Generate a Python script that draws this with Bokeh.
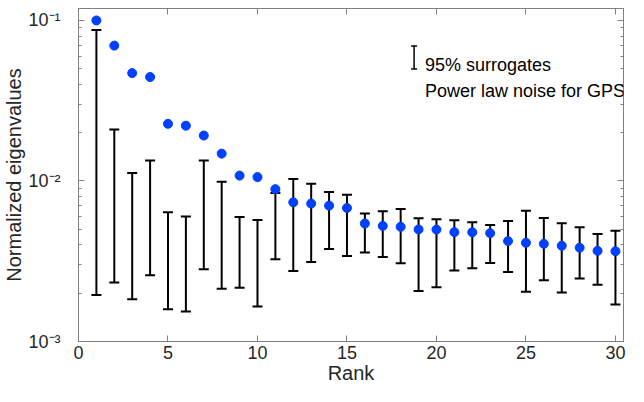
import numpy as np
from bokeh.plotting import figure
from bokeh.models import (ColumnDataSource, Range1d, Whisker, TeeHead, LogAxis, LinearAxis,
                          LogTicker, FixedTicker, CustomJSTickFormatter, Label, CustomLabelingPolicy)
from bokeh.embed import file_html
from bokeh.resources import INLINE

# ---------------- data ----------------
rank = list(range(1, 31))
eigenvalues = [0.100, 0.0697, 0.0470, 0.0444, 0.0227, 0.0221, 0.0192, 0.0148, 0.0108, 0.01057,
               0.00889, 0.00736, 0.00723, 0.00702, 0.00679, 0.00543, 0.00525, 0.00518, 0.00499, 0.00498,
               0.00480, 0.00479, 0.00473, 0.00422, 0.00412, 0.00406, 0.00395, 0.00384, 0.00367, 0.00365]
surr_upper = [0.0871, 0.0209, 0.0112, 0.0134, 0.00638, 0.00600, 0.0134, 0.00989, 0.00597, 0.00572,
              0.00841, 0.0103, 0.00962, 0.00853, 0.00821, 0.00627, 0.00648, 0.00670, 0.00586, 0.00578,
              0.00569, 0.00553, 0.00532, 0.00564, 0.00653, 0.00589, 0.00546, 0.00515, 0.00467, 0.00489]
surr_lower = [0.00195, 0.00233, 0.00183, 0.00259, 0.00159, 0.00154, 0.00282, 0.00213, 0.00216, 0.00165,
              0.00325, 0.00275, 0.00313, 0.00377, 0.00341, 0.00359, 0.00336, 0.00307, 0.00206, 0.00218,
              0.00277, 0.00286, 0.00308, 0.00271, 0.00204, 0.00241, 0.00202, 0.00247, 0.00226, 0.00170]
x_ticks = [0, 5, 10, 15, 20, 25, 30]
legend_labels = ["95% surrogates", "Power law noise for GPS"]

FONT = "Liberation Sans"
AXIS_GREY = "#808080"
TEXT = "#262626"
BLUE = "#0040ff"

src = ColumnDataSource(dict(rank=rank, eig=eigenvalues, upper=surr_upper, lower=surr_lower))

p = figure(width=628, height=386, y_axis_type="log",
           x_range=Range1d(0, 30.45), y_range=Range1d(1e-3, 0.1187),
           output_backend="svg", toolbar_location=None,
           min_border_left=77, min_border_right=0, min_border_top=8, min_border_bottom=45)
p.background_fill_color = "white"
p.border_fill_color = "white"
p.xgrid.visible = False
p.ygrid.visible = False
p.outline_line_color = AXIS_GREY
p.outline_line_width = 1

xt = FixedTicker(ticks=x_ticks)
yt = LogTicker(num_minor_ticks=10)
sup = CustomJSTickFormatter(code="""
const m = {'-':'\u207b','0':'\u2070','1':'\u00b9','2':'\u00b2','3':'\u00b3','4':'\u2074','5':'\u2075','6':'\u2076','7':'\u2077','8':'\u2078','9':'\u2079'};
const e = Math.round(Math.log10(tick));
return '10' + String(e).split('').map(c => m[c]).join('');
""")
no_labels = CustomLabelingPolicy(code="""
try { return new indices.constructor(indices.size, 0); }
catch (err) { for (const i of Array.from(indices)) { indices.unset(i); } return indices; }
""")

def style(ax, labels=True):
    ax.axis_line_color = AXIS_GREY
    ax.major_tick_line_color = AXIS_GREY
    ax.minor_tick_line_color = AXIS_GREY
    ax.major_tick_in = 6
    ax.major_tick_out = 0
    ax.minor_tick_in = 3
    ax.minor_tick_out = 0
    ax.major_label_text_font = FONT
    ax.major_label_text_color = TEXT
    ax.major_label_text_font_size = "18px"
    ax.axis_label_text_font = FONT
    ax.axis_label_text_color = TEXT
    ax.axis_label_text_font_style = "normal"
    ax.axis_label_text_font_size = "20px"
    if not labels:
        ax.major_label_text_font_size = "1px"
        ax.major_label_standoff = 0
        ax.major_label_policy = no_labels

xa = p.xaxis[0]
xa.ticker = xt
style(xa)
xa.minor_tick_line_color = None
xa.major_label_standoff = 4
xa.axis_label = "Rank"
xa.axis_label_standoff = 0

ya = p.yaxis[0]
ya.ticker = yt
ya.formatter = sup
style(ya)
ya.major_label_standoff = 18
ya.axis_label = "Normalized eigenvalues"
ya.axis_label_standoff = 0

top = LinearAxis(ticker=xt)
style(top, labels=False)
top.minor_tick_line_color = None
p.add_layout(top, "above")

right = LogAxis(ticker=yt)
style(right, labels=False)
p.add_layout(right, "right")

# error bars
w = Whisker(source=src, base="rank", upper="upper", lower="lower",
            line_color="black", line_width=2,
            upper_head=TeeHead(size=10, line_color="black", line_width=2),
            lower_head=TeeHead(size=10, line_color="black", line_width=2))
p.add_layout(w)

p.scatter("rank", "eig", source=src, size=9, color=BLUE, line_color=BLUE)

# legend (layout positions in data coordinates)
leg_x_icon, leg_x_text = 18.75, 19.36
leg_src = ColumnDataSource(dict(x=[leg_x_icon], top=[0.0693], bottom=[0.0498]))
p.add_layout(Whisker(source=leg_src, base="x", upper="top", lower="bottom",
                     line_color="black", line_width=1.5,
                     upper_head=TeeHead(size=6, line_color="black", line_width=1.5),
                     lower_head=TeeHead(size=6, line_color="black", line_width=1.5)))
for txt, yy in zip(legend_labels, [0.0529, 0.0366]):
    p.add_layout(Label(x=leg_x_text, y=yy, text=txt, text_font=FONT, text_font_size="18px",
                       text_color="black", text_baseline="alphabetic"))

open("out.html", "w").write(file_html(p, INLINE))
